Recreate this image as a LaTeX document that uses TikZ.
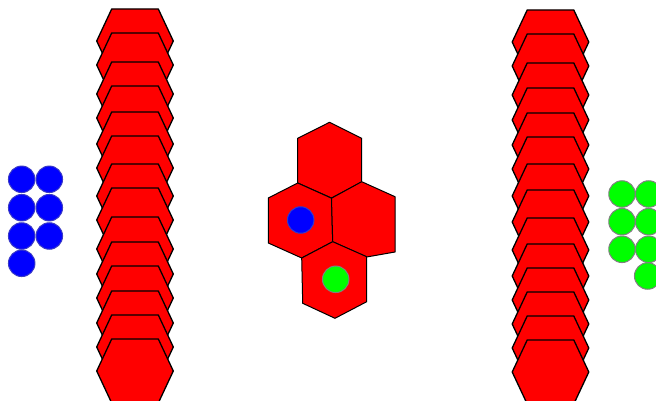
\documentclass[tikz,border=0pt]{standalone}
\begin{document}
\begin{tikzpicture}[x=1pt,y=-1pt,
  hexs/.style={fill=red, draw=black, line width=1.3pt, line join=round},
  hexc/.style={fill=red, draw=black, line width=1pt, line join=round},
  bluedot/.style={circle, fill=blue, draw=blue!55!gray, line width=1pt, minimum size=26.5pt, inner sep=0pt},
  greendot/.style={circle, fill=green, draw=gray, line width=1pt, minimum size=26.5pt, inner sep=0pt}]
\fill[white] (0,0) rectangle (656,401);
\useasboundingbox (0,0) rectangle (656,401);
% left stack
\foreach \y in {41,65,94,118,144,168,196,220,249,274,298,323,347,371}{
  \draw[hexs] (135,\y) ++(-38.3,0) -- ++(15,-32) -- ++(46.6,0) -- ++(15,32) -- ++(-15,32) -- ++(-46.6,0) -- cycle;
}
% right stack
\foreach \y in {42,66,95,120,145,169,196,222,250,276,300,324,348,372}{
  \draw[hexs] (550.5,\y) ++(-38.3,0) -- ++(15,-32) -- ++(46.6,0) -- ++(15,32) -- ++(-15,32) -- ++(-46.6,0) -- cycle;
}
% center cluster
\draw[hexc] (329.5,122.3) -- (361.7,138.3) -- (361.7,182) -- (331.5,198) -- (297.7,183) -- (297.7,138.3) -- cycle;
\draw[hexc] (297.7,183) -- (331.5,198.2) -- (332.7,241.7) -- (301.7,258) -- (268.3,243) -- (268.3,198) -- cycle;
\draw[hexc] (361.7,181.7) -- (395,196.7) -- (395,252) -- (366.7,257) -- (332.7,241.7) -- (331.5,198.2) -- cycle;
\draw[hexc] (332.7,241.7) -- (366.7,256.7) -- (366.7,301.7) -- (335,318.3) -- (302.7,303.3) -- (301.7,258) -- cycle;
\node[bluedot] (cb) at (300.7,220) {};
\node[greendot] (cg) at (335.7,279.3) {};
% blue circles
\node[bluedot] (b1) at (21.7,179.3) {};
\node[bluedot] (b2) at (49.3,179.3) {};
\node[bluedot] (b3) at (21.7,207.7) {};
\node[bluedot] (b4) at (49.3,207.7) {};
\node[bluedot] (b5) at (21.7,236) {};
\node[bluedot] (b6) at (49.3,236) {};
\node[bluedot] (b7) at (21.7,263.3) {};
% green circles
\node[greendot] (g1) at (622,194) {};
\node[greendot] (g2) at (648.7,194) {};
\node[greendot] (g3) at (622,221.7) {};
\node[greendot] (g4) at (648.7,221.7) {};
\node[greendot] (g5) at (622,249.3) {};
\node[greendot] (g6) at (648.7,249.3) {};
\node[greendot] (g7) at (647.7,276) {};
\end{tikzpicture}
\end{document}
